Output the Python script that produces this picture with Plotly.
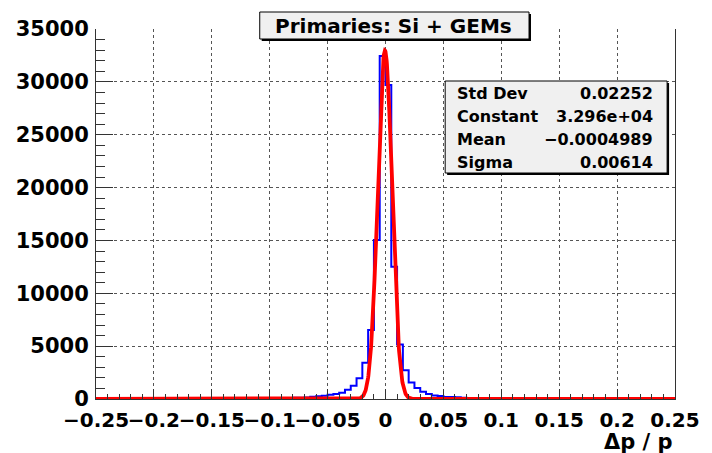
import numpy as np
import plotly.graph_objects as go

# ---- histogram: relative momentum residual, 100 bins over [-0.25, 0.25] ----
bin_low = -0.25
bin_width = 0.005
counts = [
    14, 12, 15, 13, 16, 14, 17, 15, 18, 16,
    19, 18, 21, 20, 23, 22, 25, 24, 27, 26,
    29, 31, 30, 34, 36, 38, 41, 44, 47, 52,
    58, 66, 95, 100, 110, 120, 135, 220, 260, 300,
    400, 470, 600, 870, 1250, 1960, 3430, 6530, 15050, 32450,
    29700, 12500, 5150, 2720, 1550, 1050, 690, 470, 330, 290,
    200, 180, 160, 110, 100, 95, 90, 85, 45, 40,
    36, 34, 32, 30, 29, 27, 26, 25, 24, 23,
    22, 21, 20, 19, 18, 18, 17, 16, 16, 15,
    15, 14, 14, 13, 13, 12, 12, 12, 11, 11,
]

# ---- Gaussian fit parameters and statistics ----
std_dev = 0.02252
fit_constant = 3.296e4
fit_mean = -0.0004989
fit_sigma = 0.00614

stat_names = ["Std Dev", "Constant", "Mean", "Sigma"]
stat_values = ["0.02252", "3.296e+04", "\u22120.0004989", "0.00614"]

title_text = "Primaries: Si + GEMs"
x_title = "\u0394p / p"

x_ticks = [-0.25, -0.2, -0.15, -0.1, -0.05, 0, 0.05, 0.1, 0.15, 0.2, 0.25]
y_ticks = [0, 5000, 10000, 15000, 20000, 25000, 30000, 35000]

# ---- geometry (pixels) ----
W, H = 712, 453
PL, PR, PT, PB = 96, 683, 29, 399


def px(x):
    return (x - PL) / (PR - PL)


def py(y):
    return (PB - y) / (PB - PT)


edges = bin_low + bin_width * np.arange(len(counts) + 1)
step_y = counts + [counts[-1]]

fit_x = np.linspace(bin_low, bin_low + bin_width * len(counts), 2001)
fit_y = fit_constant * np.exp(-0.5 * ((fit_x - fit_mean) / fit_sigma) ** 2)

FONT = "DejaVu Sans"

fig = go.Figure()
fig.add_trace(go.Scatter(
    x=edges, y=step_y, mode="lines", line_shape="hv",
    line=dict(color="#0000ff", width=2), hoverinfo="skip", showlegend=False,
))
fig.add_trace(go.Scatter(
    x=fit_x, y=fit_y, mode="lines",
    line=dict(color="#ff0000", width=3.8), hoverinfo="skip", showlegend=False,
))

axis_color = "#333333"
grid = dict(showgrid=True, gridcolor="#555555", griddash="dot", gridwidth=1)

fig.update_xaxes(
    range=[-0.25, 0.25], tickvals=x_ticks,
    ticktext=[("\u2212" if v < 0 else "") + f"{abs(v):g}" for v in x_ticks],
    tickangle=0,
    ticks="inside", ticklen=10, tickwidth=1, tickcolor=axis_color,
    minor=dict(dtick=0.01, ticks="inside", ticklen=5, tickcolor=axis_color, showgrid=False),
    showline=True, linecolor=axis_color, linewidth=1, mirror=False,
    zeroline=False,
    tickfont=dict(family=FONT, size=20, color="black", weight="bold"),
    ticklabelstandoff=3,
    **grid,
)
fig.update_yaxes(
    range=[0, 35000], tickvals=y_ticks, ticktext=[str(v) for v in y_ticks],
    ticks="inside", ticklen=17, tickwidth=1, tickcolor=axis_color,
    minor=dict(dtick=1000, ticks="inside", ticklen=9, tickcolor=axis_color, showgrid=False),
    showline=True, linecolor=axis_color, linewidth=1, mirror=True,
    zeroline=False,
    tickfont=dict(family=FONT, size=21, color="black", weight="bold"),
    ticklabelstandoff=2,
    **grid,
)

shapes = []
annotations = []


def pave(x0, y0, x1, y1, shadow=2):
    # ROOT-like box with a dark drop shadow
    shapes.append(dict(type="rect", xref="paper", yref="paper",
                       x0=px(x0 + shadow), x1=px(x1 + shadow), y0=py(y1 + shadow), y1=py(y0 + shadow),
                       fillcolor="black", line=dict(width=0), layer="above"))
    shapes.append(dict(type="rect", xref="paper", yref="paper",
                       x0=px(x0), x1=px(x1), y0=py(y1), y1=py(y0),
                       fillcolor="#f0f0f0", line=dict(color="black", width=1), layer="above"))


# title box
pave(262, 12, 535, 39, shadow=2)
annotations.append(dict(xref="paper", yref="paper", x=px(398), y=py(26),
                        text=title_text, showarrow=False, xanchor="center", yanchor="middle",
                        font=dict(family=FONT, size=20, color="black", weight="bold")))

# statistics box
pave(450, 81, 675, 173, shadow=2)
row_y = [93, 116, 139, 162]
for name, val, ry in zip(stat_names, stat_values, row_y):
    annotations.append(dict(xref="paper", yref="paper", x=px(460), y=py(ry),
                            text=name, showarrow=False, xanchor="left", yanchor="middle",
                            font=dict(family=FONT, size=16, color="black", weight="bold")))
    annotations.append(dict(xref="paper", yref="paper", x=px(663), y=py(ry),
                            text=val, showarrow=False, xanchor="right", yanchor="middle",
                            font=dict(family=FONT, size=16, color="black", weight="bold")))

# x-axis title, right aligned at the end of the axis
annotations.append(dict(xref="paper", yref="paper", x=1.0, y=py(442),
                        text=x_title, showarrow=False, xanchor="right", yanchor="middle",
                        font=dict(family=FONT, size=21, color="black", weight="bold")))

fig.update_layout(
    width=W, height=H,
    margin=dict(l=PL, r=W - PR, t=PT, b=H - PB, pad=0),
    paper_bgcolor="white", plot_bgcolor="white",
    shapes=shapes, annotations=annotations,
    showlegend=False,
)

fig.write_html("out.html")
